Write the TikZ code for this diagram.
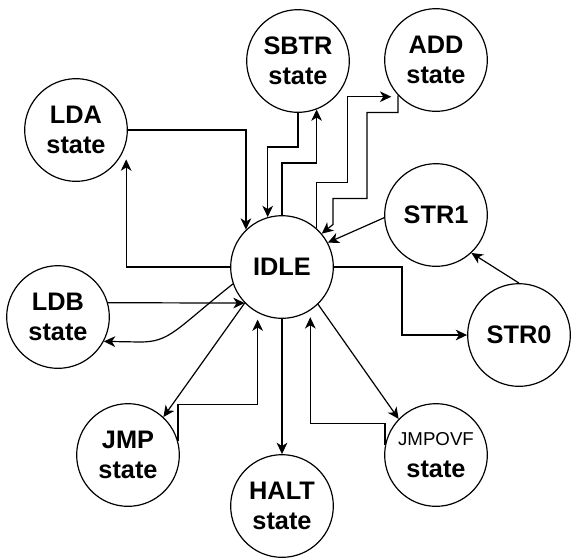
\documentclass[tikz,border=0pt]{standalone}
\usepackage{fontspec}
\setmainfont{Liberation Sans}
\usetikzlibrary{arrows.meta, calc}

\begin{document}
\begin{tikzpicture}[
    x=0.75pt, y=-0.75pt,
    state/.style={circle, draw, line width=0.9pt, minimum size=77pt, inner sep=0pt, align=center, font=\fontsize{19}{22.5}\selectfont\bfseries},
    arrow/.style={-{Stealth[length=8.5pt, width=8pt, inset=2.5pt]}, line width=0.9pt}
]
    \useasboundingbox (0,0) rectangle (571,558);

    \node[state] (IDLE) at (282,267) {IDLE};
    \node[state] (LDA) at (76,130) {LDA\\state};
    \node[state] (SBTR) at (298,61) {SBTR\\state};
    \node[state] (ADD) at (436,60) {ADD\\state};
    \node[state] (STR1) at (436,215) {STR1};
    \node[state] (STR0) at (519,335) {STR0};
    \node[state] (LDB) at (58,317) {LDB\\state};
    \node[state] (JMP) at (128,455) {JMP\\state};
    \node[state] (HALT) at (282,506) {HALT\\state};
    \node[state] (JMPOVF) at (436,455) {{\fontsize{14}{16}\selectfont\mdseries JMPOVF}\\[2pt]state};

    % upper half
    \draw[arrow] (LDA.east) -| (IDLE.134);
    \draw[arrow, shorten >=12pt] (IDLE.west) -| (LDA.-15);
    \draw[arrow] (SBTR.south) -- ++(0,34) -| (IDLE.106);
    \draw[arrow] (IDLE.north) -- ++(0,-52) -| (SBTR.-69);
    \draw[arrow, shorten >=6pt] (IDLE.48) -- ++(0,-46) -- ++(31,0) |- (ADD.225);
    \draw[arrow] (ADD.223) -- ++(0,17) -- ++(-31,0) -- ++(0,86) -- ++(-34,0) -- ++(0,26) -- (IDLE.40);
    \draw[arrow] (STR1.183) -- (IDLE.28);
    \draw[arrow] (STR0.north) -- (STR1.-47);
    \draw[arrow] (IDLE.east) -- ++(68,0) |- (STR0.west);

    % lower half
    \draw[arrow] (LDB.16) -- (IDLE.224);
    \draw[arrow] (IDLE.199) .. controls (175,330) and (170,342) .. (140,342) -- (LDB.-28);
    \draw[arrow] (IDLE.224) -- (JMP.47);
    \draw[arrow, shorten >=5pt] (JMP.16) -- ++(0,-36) -| (IDLE.242);
    \draw[arrow] (IDLE.south) -- (HALT.north);
    \draw[arrow] (IDLE.-46) -- (JMPOVF.136);
    \draw[arrow, shorten >=5pt] (JMPOVF.169) -- ++(0,-22) -| (IDLE.-57);
\end{tikzpicture}
\end{document}
